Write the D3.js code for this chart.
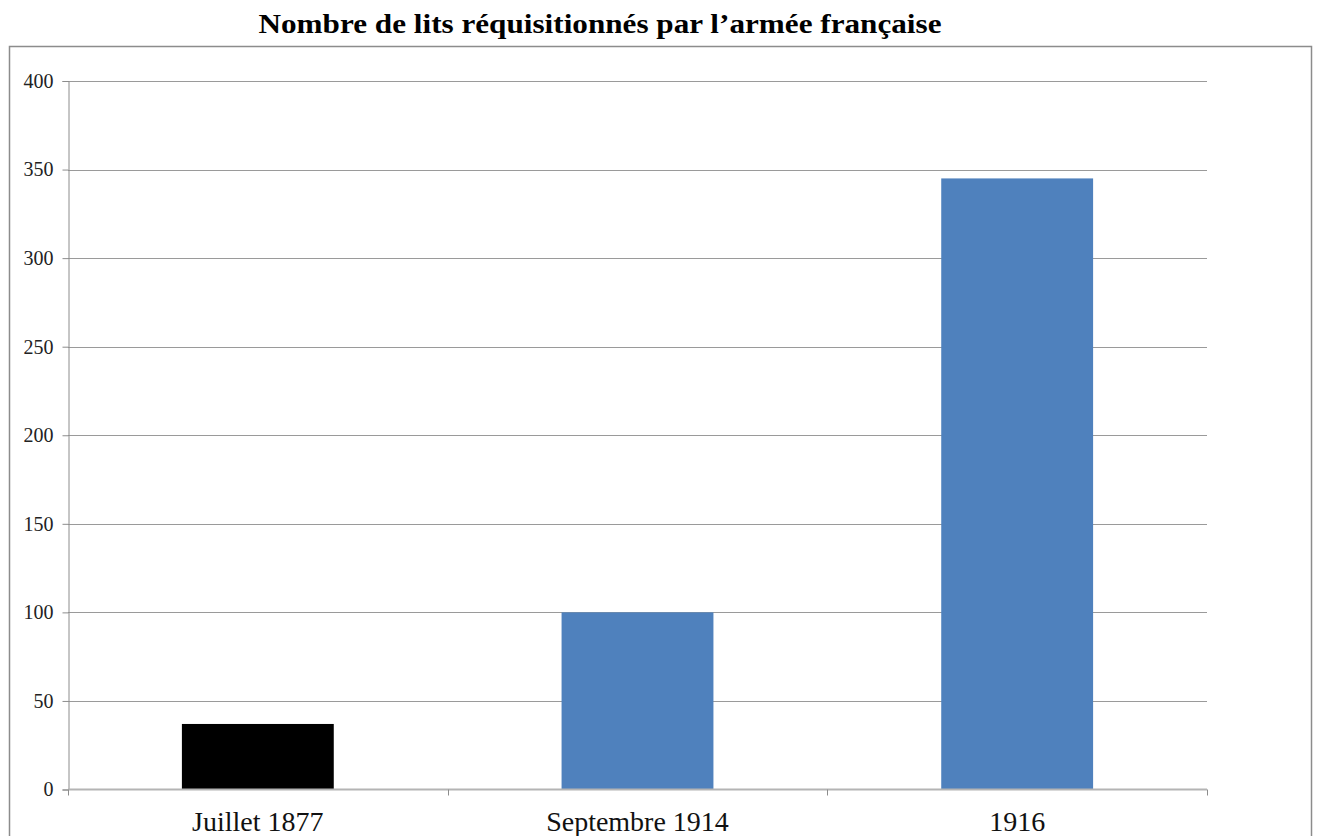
<!DOCTYPE html>
<html>
<head>
<meta charset="utf-8">
<script src="https://cdn.jsdelivr.net/npm/d3@7"></script>
<style>
  body { margin: 0; background: #fff; }
  svg { display: block; }
</style>
</head>
<body>
<script>
"use strict";
(function(){
    // chart data
    const categories = ["Juillet 1877", "Septembre 1914", "1916"]
    const values = [37, 100, 345]
    const barColors = ["#000000", "#4f81bd", "#4f81bd"]
    const yTicks = [0, 50, 100, 150, 200, 250, 300, 350, 400]
    const title = "Nombre de lits réquisitionnés par l’armée française"

    const measurements = {
        width: 1320,
        height: 836,
        left: 68,
        right: 1207,
        top: 81,
        bottom: 789.5
    }
    const font = "'Liberation Serif', 'DejaVu Serif', serif"

    const svg = d3.select("body").append("svg")
        .attr("width", measurements.width)
        .attr("height", measurements.height)

    // outer frame
    svg.append("rect")
        .attr("x", 9.5)
        .attr("y", 46.5)
        .attr("width", 1302)
        .attr("height", 820)
        .attr("fill", "none")
        .attr("stroke", "#8c8c8c")
        .attr("stroke-width", 1.5)

    // title (stretched to the width of the original Garamond title)
    svg.append("text")
        .attr("x", 600)
        .attr("y", 33)
        .attr("text-anchor", "middle")
        .attr("textLength", 683)
        .attr("lengthAdjust", "spacingAndGlyphs")
        .style("font-family", font)
        .style("font-weight", "bold")
        .style("font-size", "28px")
        .text(title)

    // scales
    const scaleX = d3.scaleBand()
        .domain(categories)
        .range([measurements.left, measurements.right])
        .paddingInner(0.6)
        .paddingOuter(0.3)
    const scaleY = d3.scaleLinear()
        .domain([0, 400])
        .range([measurements.bottom, measurements.top])

    // gridlines
    svg.append("g")
        .selectAll("line")
        .data(yTicks.filter(d => d > 0))
        .enter()
        .append("line")
            .attr("x1", measurements.left)
            .attr("x2", measurements.right)
            .attr("y1", d => Math.round(scaleY(d)) + 0.5)
            .attr("y2", d => Math.round(scaleY(d)) + 0.5)
            .attr("stroke", "#9a9a9a")
            .attr("stroke-width", 1)

    // y axis
    const yAxis = d3.axisLeft(scaleY)
        .tickValues(yTicks)
        .tickSize(6)
        .tickPadding(9)
    const gy = svg.append("g")
        .attr("transform", "translate(" + (measurements.left + 0.5) + ",0)")
        .call(yAxis)
    gy.select(".domain").attr("stroke", "#8c8c8c")
    gy.selectAll(".tick line").attr("stroke", "#8c8c8c")
    gy.selectAll(".tick text")
        .style("font-family", font)
        .style("font-size", "20px")
        .attr("fill", "#222")

    // bars
    svg.append("g")
        .selectAll("rect")
        .data(values)
        .enter()
        .append("rect")
            .attr("x", (d, i) => scaleX(categories[i]))
            .attr("y", d => scaleY(d))
            .attr("width", scaleX.bandwidth())
            .attr("height", d => scaleY(0) - scaleY(d))
            .attr("fill", (d, i) => barColors[i])

    // x axis with tick marks between categories
    const step = scaleX.step()
    const boundaries = [0, 1, 2, 3].map(i => measurements.left + i * step)
    const gx = svg.append("g")
    gx.append("line")
        .attr("x1", measurements.left)
        .attr("x2", measurements.right)
        .attr("y1", measurements.bottom)
        .attr("y2", measurements.bottom)
        .attr("stroke", "#b4b4b4")
        .attr("stroke-width", 2)
    gx.selectAll(".xtick")
        .data(boundaries)
        .enter()
        .append("line")
            .attr("class", "xtick")
            .attr("x1", d => Math.round(d) + 0.5)
            .attr("x2", d => Math.round(d) + 0.5)
            .attr("y1", measurements.bottom)
            .attr("y2", measurements.bottom + 6)
            .attr("stroke", "#8c8c8c")
    gx.selectAll(".xlabel")
        .data(categories)
        .enter()
        .append("text")
            .attr("class", "xlabel")
            .attr("x", d => scaleX(d) + scaleX.bandwidth() / 2)
            .attr("y", 831)
            .attr("text-anchor", "middle")
            .style("font-family", font)
            .style("font-size", "28px")
            .attr("fill", "#111")
            .text(d => d)
})()
</script>
</body>
</html>
